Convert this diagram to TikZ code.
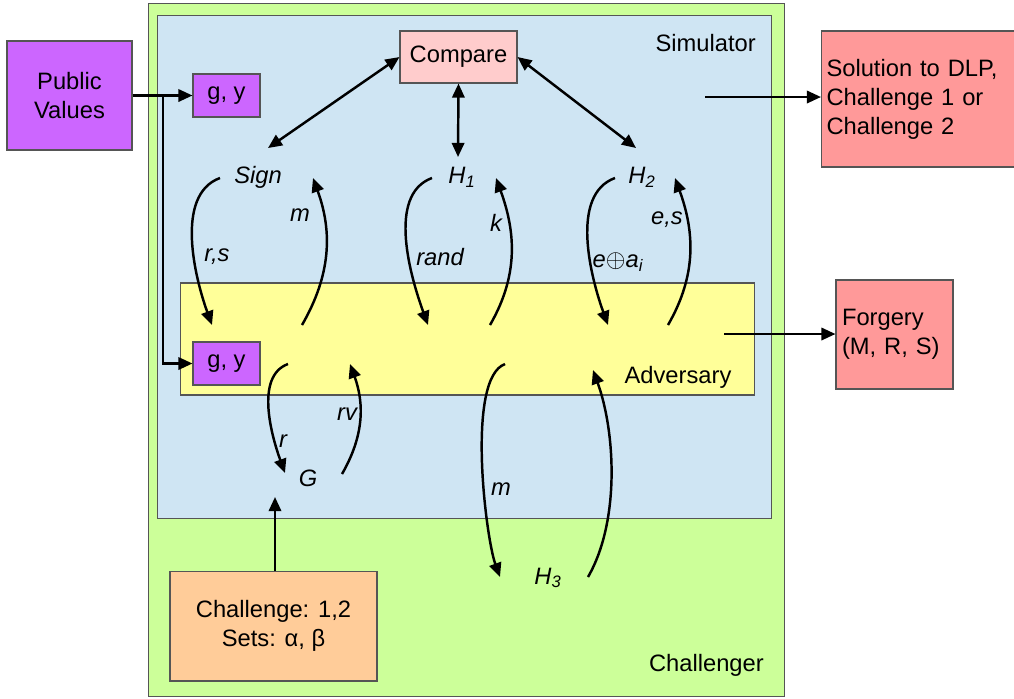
\documentclass[tikz,border=0pt]{standalone}
\usepackage{fontspec}
\setmainfont{Liberation Sans}
\usetikzlibrary{arrows.meta, positioning}

\definecolor{chalgreen}{HTML}{CCFF99}
\definecolor{simblue}{HTML}{CFE5F3}
\definecolor{advyellow}{HTML}{FFFF99}
\definecolor{cmppink}{HTML}{FFCCCC}
\definecolor{valpurple}{HTML}{CC66FF}
\definecolor{outred}{HTML}{FF9999}
\definecolor{chorange}{HTML}{FFCC99}
\definecolor{edgegray}{HTML}{555555}

\begin{document}
\begin{tikzpicture}[
    x=0.02cm, y=-0.02cm,
    every node/.style={font=\fontsize{13.5}{16.5}\selectfont},
    panel/.style={draw=edgegray, line width=0.6pt, inner sep=0pt},
    valbox/.style={draw=edgegray, line width=0.6pt, fill=valpurple, inner sep=0pt, align=center},
    fnlabel/.style={font=\fontsize{13.5}{16.5}\selectfont\itshape, inner sep=1pt},
    edgelabel/.style={font=\fontsize{13.5}{16.5}\selectfont\itshape, inner sep=0pt},
    flow/.style={line width=1.4pt, -{Triangle[length=8pt, width=7pt]}},
    both/.style={line width=1.4pt, {Triangle[length=8pt, width=7pt]}-{Triangle[length=8pt, width=7pt]}},
    loopdown/.style={flow, out=200, in=110, looseness=0.85},
    loopup/.style={flow, out=60, in=-70}
]
    \useasboundingbox (0,0) rectangle (1014,698);

    % Nested panels
    \node[panel, fill=chalgreen, minimum width=12.74cm, minimum height=13.88cm] (chal) at (466.5,350) {};
    \node[panel, fill=simblue, minimum width=12.3cm, minimum height=10.08cm] (sim) at (464.5,267) {};
    \node[panel, fill=advyellow, minimum width=11.5cm, minimum height=2.24cm] (adv) at (467.5,339) {};

    \node[anchor=east] (simname) at (762,43) {Simulator};
    \node (advname) at (678,377) {Adversary};
    \node[anchor=east] (chalname) at (770,665) {Challenger};

    % Boxes
    \node[valbox, minimum width=2.5cm, minimum height=2.18cm] (pub) at (69.5,95.5) {Public\\Values};
    \node[valbox, minimum width=1.34cm, minimum height=0.86cm] (gytop) at (226.5,95.5) {g, y};
    \node[valbox, minimum width=1.34cm, minimum height=0.86cm] (gybot) at (226.5,363.5) {g, y};
    \node[panel, fill=cmppink, minimum width=2.34cm, minimum height=1.04cm] (cmp) at (458.5,57) {Compare};
    \node[panel, fill=outred, minimum width=3.9cm, minimum height=2.72cm, align=left, text width=3.7cm] (sol) at (919,99) {Solution to DLP,\\Challenge 1 or\\Challenge 2};
    \node[panel, fill=outred, minimum width=2.34cm, minimum height=2.18cm, align=left, text width=2.1cm] (forge) at (894.5,334.5) {Forgery\\(M, R, S)};
    \node[panel, fill=chorange, minimum width=4.14cm, minimum height=2.2cm, align=center] (chbox) at (273.5,626) {Challenge: 1,2\\Sets: α, β};

    % Oracles
    \node[fnlabel] (sign) at (258,177) {Sign};
    \node[fnlabel] (hone) at (462,177) {H\textsubscript{1}};
    \node[fnlabel] (htwo) at (642,177) {H\textsubscript{2}};
    \node[fnlabel] (gen) at (308,478) {G};
    \node[fnlabel] (hthree) at (548,578) {H\textsubscript{3}};

    % Loose ends of the connectors
    \coordinate (split) at (163,95.5);
    \coordinate (signtip) at (268,148);
    \coordinate (honetip) at (458,157);
    \coordinate (htwotip) at (636,148);
    \coordinate (simout) at (705,97);
    \coordinate (advout) at (724,334);
    \coordinate (gentip) at (275,497);

    \coordinate (s1) at (220,178); \coordinate (s2) at (212,325);
    \coordinate (s3) at (302,325); \coordinate (s4) at (313,178);
    \coordinate (h1) at (432,178); \coordinate (h2) at (428,325);
    \coordinate (h3) at (490,325); \coordinate (h4) at (496,178);
    \coordinate (k1) at (615,178); \coordinate (k2) at (608,325);
    \coordinate (k3) at (668,325); \coordinate (k4) at (675,178);
    \coordinate (g1) at (288,364); \coordinate (g2) at (285,473);
    \coordinate (g3) at (342,474); \coordinate (g4) at (350,364);
    \coordinate (t1) at (505,364); \coordinate (t2) at (500,577);
    \coordinate (t3) at (588,577); \coordinate (t4) at (593,370);

    % Straight arrows
    \draw[flow] (pub.east |- split) -- (gytop.west);
    \draw[flow] (split) |- (gybot.west);
    \draw[both] (cmp.west) -- (signtip);
    \draw[both] (cmp.south) -- (honetip);
    \draw[both] (cmp.east) -- (htwotip);
    \draw[flow] (simout) -- (simout -| sol.west);
    \draw[flow] (advout) -- (advout -| forge.west);
    \draw[flow] (chbox.north -| gentip) -- (gentip);

    % Oracle queries
    \draw[loopdown] (s1) to (s2);
    \draw[loopup] (s3) to (s4);
    \draw[loopdown] (h1) to (h2);
    \draw[loopup] (h3) to (h4);
    \draw[loopdown] (k1) to (k2);
    \draw[loopup] (k3) to (k4);
    \draw[loopdown] (g1) to (g2);
    \draw[loopup] (g3) to (g4);
    \draw[loopdown, looseness=0.5] (t1) to (t2);
    \draw[loopup, looseness=0.8] (t3) to (t4);

    % Query labels
    \node[edgelabel] (lm) at (300,215) {m};
    \node[edgelabel] (lrs) at (217,257) {r,s};
    \node[edgelabel] (lk) at (496,223) {k};
    \node[edgelabel] (lrand) at (440,257) {rand};
    \node[edgelabel] (les) at (667,220) {e,s};
    \node[edgelabel] (lea) at (618,262) {e$\oplus$a\textsubscript{i}};
    \node[edgelabel] (lr) at (283,441) {r};
    \node[edgelabel] (lrv) at (347,414) {rv};
    \node[edgelabel] (lm3) at (501,489) {m};
\end{tikzpicture}
\end{document}
